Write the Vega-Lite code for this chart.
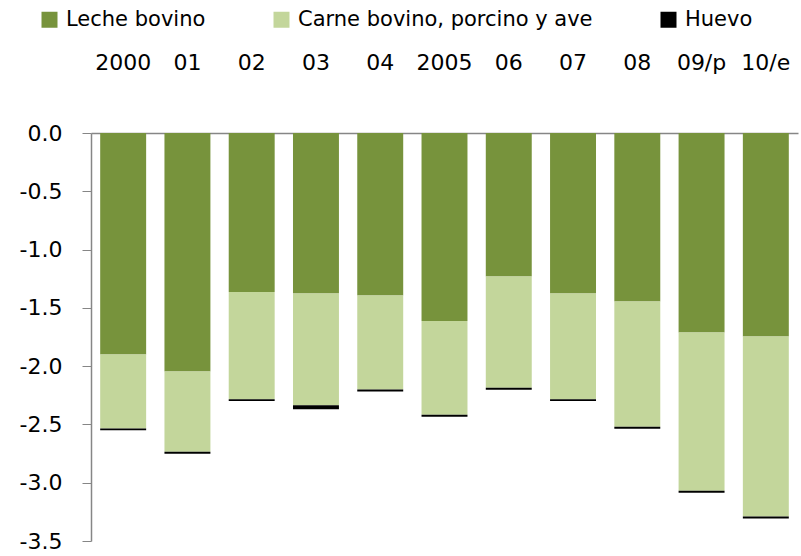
{
  "$schema": "https://vega.github.io/schema/vega-lite/v6.json",
  "width": 707,
  "height": 408,
  "autosize": {"type": "none"},
  "padding": {"left": 91, "top": 133, "right": 3, "bottom": 15},
  "background": "white",
  "config": {
    "view": {"stroke": null},
    "font": "DejaVu Sans",
    "axis": {"labelFont": "DejaVu Sans", "labelFontSize": 22, "labelColor": "#000000"},
    "legend": {"labelFont": "DejaVu Sans", "labelFontSize": 21, "labelColor": "#000000"}
  },
  "data": {
    "values": [
      {"anio": "2000", "serie": "Leche bovino", "valor": -1.90, "orden": 1},
      {"anio": "2000", "serie": "Carne bovino, porcino y ave", "valor": -0.634, "orden": 2},
      {"anio": "2000", "serie": "Huevo", "valor": -0.017, "orden": 3},
      {"anio": "01", "serie": "Leche bovino", "valor": -2.046, "orden": 1},
      {"anio": "01", "serie": "Carne bovino, porcino y ave", "valor": -0.688, "orden": 2},
      {"anio": "01", "serie": "Huevo", "valor": -0.017, "orden": 3},
      {"anio": "02", "serie": "Leche bovino", "valor": -1.363, "orden": 1},
      {"anio": "02", "serie": "Carne bovino, porcino y ave", "valor": -0.92, "orden": 2},
      {"anio": "02", "serie": "Huevo", "valor": -0.017, "orden": 3},
      {"anio": "03", "serie": "Leche bovino", "valor": -1.377, "orden": 1},
      {"anio": "03", "serie": "Carne bovino, porcino y ave", "valor": -0.958, "orden": 2},
      {"anio": "03", "serie": "Huevo", "valor": -0.034, "orden": 3},
      {"anio": "04", "serie": "Leche bovino", "valor": -1.395, "orden": 1},
      {"anio": "04", "serie": "Carne bovino, porcino y ave", "valor": -0.805, "orden": 2},
      {"anio": "04", "serie": "Huevo", "valor": -0.017, "orden": 3},
      {"anio": "2005", "serie": "Leche bovino", "valor": -1.612, "orden": 1},
      {"anio": "2005", "serie": "Carne bovino, porcino y ave", "valor": -0.805, "orden": 2},
      {"anio": "2005", "serie": "Huevo", "valor": -0.017, "orden": 3},
      {"anio": "06", "serie": "Leche bovino", "valor": -1.232, "orden": 1},
      {"anio": "06", "serie": "Carne bovino, porcino y ave", "valor": -0.954, "orden": 2},
      {"anio": "06", "serie": "Huevo", "valor": -0.017, "orden": 3},
      {"anio": "07", "serie": "Leche bovino", "valor": -1.377, "orden": 1},
      {"anio": "07", "serie": "Carne bovino, porcino y ave", "valor": -0.906, "orden": 2},
      {"anio": "07", "serie": "Huevo", "valor": -0.017, "orden": 3},
      {"anio": "08", "serie": "Leche bovino", "valor": -1.446, "orden": 1},
      {"anio": "08", "serie": "Carne bovino, porcino y ave", "valor": -1.074, "orden": 2},
      {"anio": "08", "serie": "Huevo", "valor": -0.017, "orden": 3},
      {"anio": "09/p", "serie": "Leche bovino", "valor": -1.712, "orden": 1},
      {"anio": "09/p", "serie": "Carne bovino, porcino y ave", "valor": -1.358, "orden": 2},
      {"anio": "09/p", "serie": "Huevo", "valor": -0.017, "orden": 3},
      {"anio": "10/e", "serie": "Leche bovino", "valor": -1.746, "orden": 1},
      {"anio": "10/e", "serie": "Carne bovino, porcino y ave", "valor": -1.543, "orden": 2},
      {"anio": "10/e", "serie": "Huevo", "valor": -0.017, "orden": 3}
    ]
  },
  "mark": {"type": "bar"},
  "encoding": {
    "x": {
      "field": "anio",
      "type": "nominal",
      "sort": null,
      "scale": {"paddingInner": 0.285, "paddingOuter": 0.143},
      "axis": {
        "orient": "top",
        "title": null,
        "labelAngle": 0,
        "ticks": false,
        "labelPadding": 59,
        "domainColor": "#868686",
        "domainWidth": 1.5
      }
    },
    "y": {
      "field": "valor",
      "type": "quantitative",
      "stack": "zero",
      "scale": {"domain": [-3.5, 0], "nice": false, "zero": false},
      "axis": {
        "title": null,
        "values": [0, -0.5, -1, -1.5, -2, -2.5, -3, -3.5],
        "labelExpr": "datum.value == 0 ? '0.0' : '-' + format(-datum.value, '.1f')",
        "grid": false,
        "tickSize": 9,
        "tickColor": "#868686",
        "domainColor": "#868686",
        "domainWidth": 1.5,
        "labelPadding": 20
      }
    },
    "color": {
      "field": "serie",
      "type": "nominal",
      "scale": {
        "domain": ["Leche bovino", "Carne bovino, porcino y ave", "Huevo"],
        "range": ["#77933C", "#C3D69B", "#000000"]
      },
      "legend": {
        "title": null,
        "orient": "none",
        "legendX": -52,
        "legendY": -124,
        "direction": "horizontal",
        "symbolType": "square",
        "symbolSize": 256,
        "symbolStrokeWidth": 0,
        "labelOffset": 6,
        "columnPadding": 65,
        "labelLimit": 500
      }
    },
    "order": {"field": "orden", "type": "quantitative"}
  }
}
